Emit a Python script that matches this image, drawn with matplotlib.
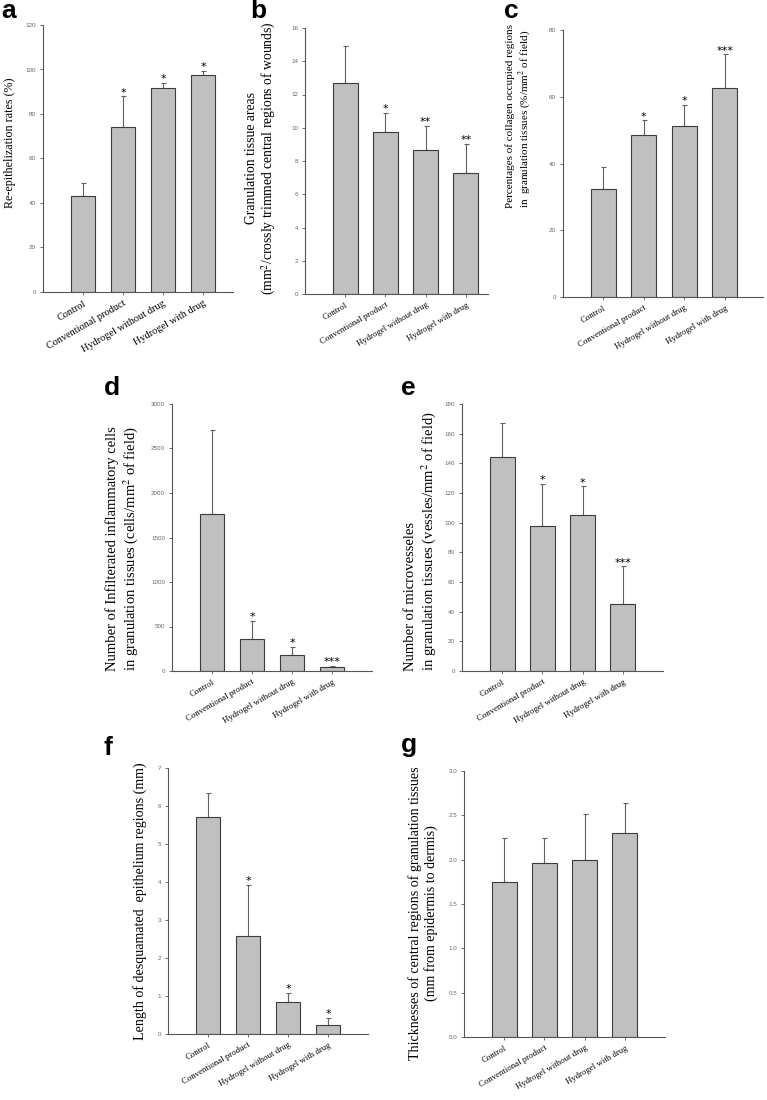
import matplotlib
matplotlib.use("Agg")
import matplotlib.pyplot as plt

plt.rcParams['font.family'] = ['Liberation Serif', 'DejaVu Serif']
plt.rcParams['mathtext.fontset'] = 'stix'

groups = ["Control", "Conventional product", "Hydrogel without drug", "Hydrogel with drug"]

# values: mean and upper error-bar end
reepi_mean = [43, 74, 91.5, 97.5]
reepi_top = [49, 88, 94, 99.5]
reepi_stars = ["", "*", "*", "*"]

gran_mean = [12.7, 9.75, 8.65, 7.3]
gran_top = [14.9, 10.9, 10.1, 9.05]
gran_stars = ["", "*", "**", "**"]

coll_mean = [32.3, 48.5, 51.3, 62.6]
coll_top = [39, 53, 57.5, 72.7]
coll_stars = ["", "*", "*", "***"]

infl_mean = [1760, 355, 185, 40]
infl_top = [2710, 565, 275, 55]
infl_stars = ["", "*", "*", "***"]

micro_mean = [144, 98, 105, 45]
micro_top = [167, 126, 124.5, 70.5]
micro_stars = ["", "*", "*", "***"]

desq_mean = [5.7, 2.57, 0.85, 0.23]
desq_top = [6.33, 3.93, 1.08, 0.43]
desq_stars = ["", "*", "*", "*"]

thick_mean = [1.75, 1.96, 2.0, 2.3]
thick_top = [2.24, 2.24, 2.52, 2.64]
thick_stars = ["", "", "", ""]

W, H = 767, 1100
fig = plt.figure(figsize=(W / 100, H / 100), dpi=100)


def panel(box, letter, letter_xy, mean, top, stars, ymax, ystep, ylabel, lab, xmax,
          fmt="{:.0f}", xfs=6.3):
    l, r, t, b = box
    ax = fig.add_axes([l / W, 1 - b / H, (r - l) / W, (b - t) / H])
    x = list(range(len(groups)))
    err = [tp - m for tp, m in zip(top, mean)]
    ax.bar(x, mean, width=0.62, color="#c0c0c0", edgecolor="#3c3c3c", linewidth=0.8, zorder=2)
    ax.errorbar(x, mean, yerr=[[0] * len(x), err], fmt="none", ecolor="#606060",
                elinewidth=0.8, capsize=1.8, capthick=0.8, zorder=1)
    for xi, tp, s in zip(x, top, stars):
        if s:
            ax.annotate(s, (xi, tp), xytext=(0, -1), textcoords="offset points",
                        ha="center", va="bottom", fontsize=8, family="DejaVu Sans")
    ax.set_xlim(-1, xmax)
    ax.set_ylim(0, ymax)
    ticks = [i * ystep for i in range(int(round(ymax / ystep)) + 1)]
    ax.set_yticks(ticks)
    ax.set_yticklabels([fmt.format(v) for v in ticks], family="Liberation Sans", fontsize=4.5, color="#666666")
    ax.set_xticks(x)
    ax.set_xticklabels(groups, rotation=30, ha="right", rotation_mode="anchor", fontsize=xfs)
    for sp in ["top", "right"]:
        ax.spines[sp].set_visible(False)
    for sp in ["left", "bottom"]:
        ax.spines[sp].set_color("#555555")
        ax.spines[sp].set_linewidth(0.8)
    ax.tick_params(length=2.5, width=0.6, color="#555555", pad=2.5)
    lx, ly, ha, fs = lab
    ax.set_ylabel(ylabel, fontsize=fs, linespacing=1.15)
    ax.yaxis.set_label_coords(lx, ly)
    ax.yaxis.label.set_horizontalalignment(ha)
    ax.yaxis.label.set_multialignment(ha)
    fig.text(letter_xy[0] / W, 1 - letter_xy[1] / H, letter, family="Liberation Sans",
             fontweight="bold", fontsize=19, va="baseline")
    return ax


panel((43, 233, 25, 292), "a", (1, 18), reepi_mean, reepi_top, reepi_stars, 120, 20,
      "Re-epithelization rates (%)", (-0.142, 0.56, "center", 8.7), 3.75, xfs=7.4)
panel((305, 488, 28, 294), "b", (250, 18), gran_mean, gran_top, gran_stars, 16, 2,
      "Granulation tissue areas\n(mm$^2$/crossly trimmed central regions of wounds)",
      (-0.148, 0.51, "center", 9.8), 3.55)
panel((563, 763, 30, 297), "c", (504, 18), coll_mean, coll_top, coll_stars, 80, 20,
      "Percentages of collagen occupied regions\nin  granulation tissues (%/mm$^2$ of field)",
      (-0.15, 0.333, "left", 8.0), 3.95)
panel((172, 372, 404, 671), "d", (104, 395), infl_mean, infl_top, infl_stars, 3000, 500,
      "Number of Infilterated inflammatory cells\nin granulation tissues (cells/mm$^2$ of field)",
      (-0.16, 0.0, "left", 10.5), 4.0)
panel((462, 663, 404, 671), "e", (401, 395), micro_mean, micro_top, micro_stars, 180, 20,
      "Number of microvesseles\nin granulation tissues (vessles/mm$^2$ of field)",
      (-0.12, 0.0, "left", 10.5), 4.0)
panel((168, 368, 768, 1034), "f", (104, 755), desq_mean, desq_top, desq_stars, 7, 1,
      "Length of desquamated  epithelium regions (mm)", (-0.105, 0.5, "center", 10.1), 4.0)
panel((464, 665, 771, 1037), "g", (401, 752), thick_mean, thick_top, thick_stars, 3.0, 0.5,
      "Thicknesses of central regions of granulation tissues\n(mm from epidermis to dermis)",
      (-0.13, 0.466, "center", 10.1), 4.0, fmt="{:.1f}")

fig.savefig("out.png", dpi=100)
